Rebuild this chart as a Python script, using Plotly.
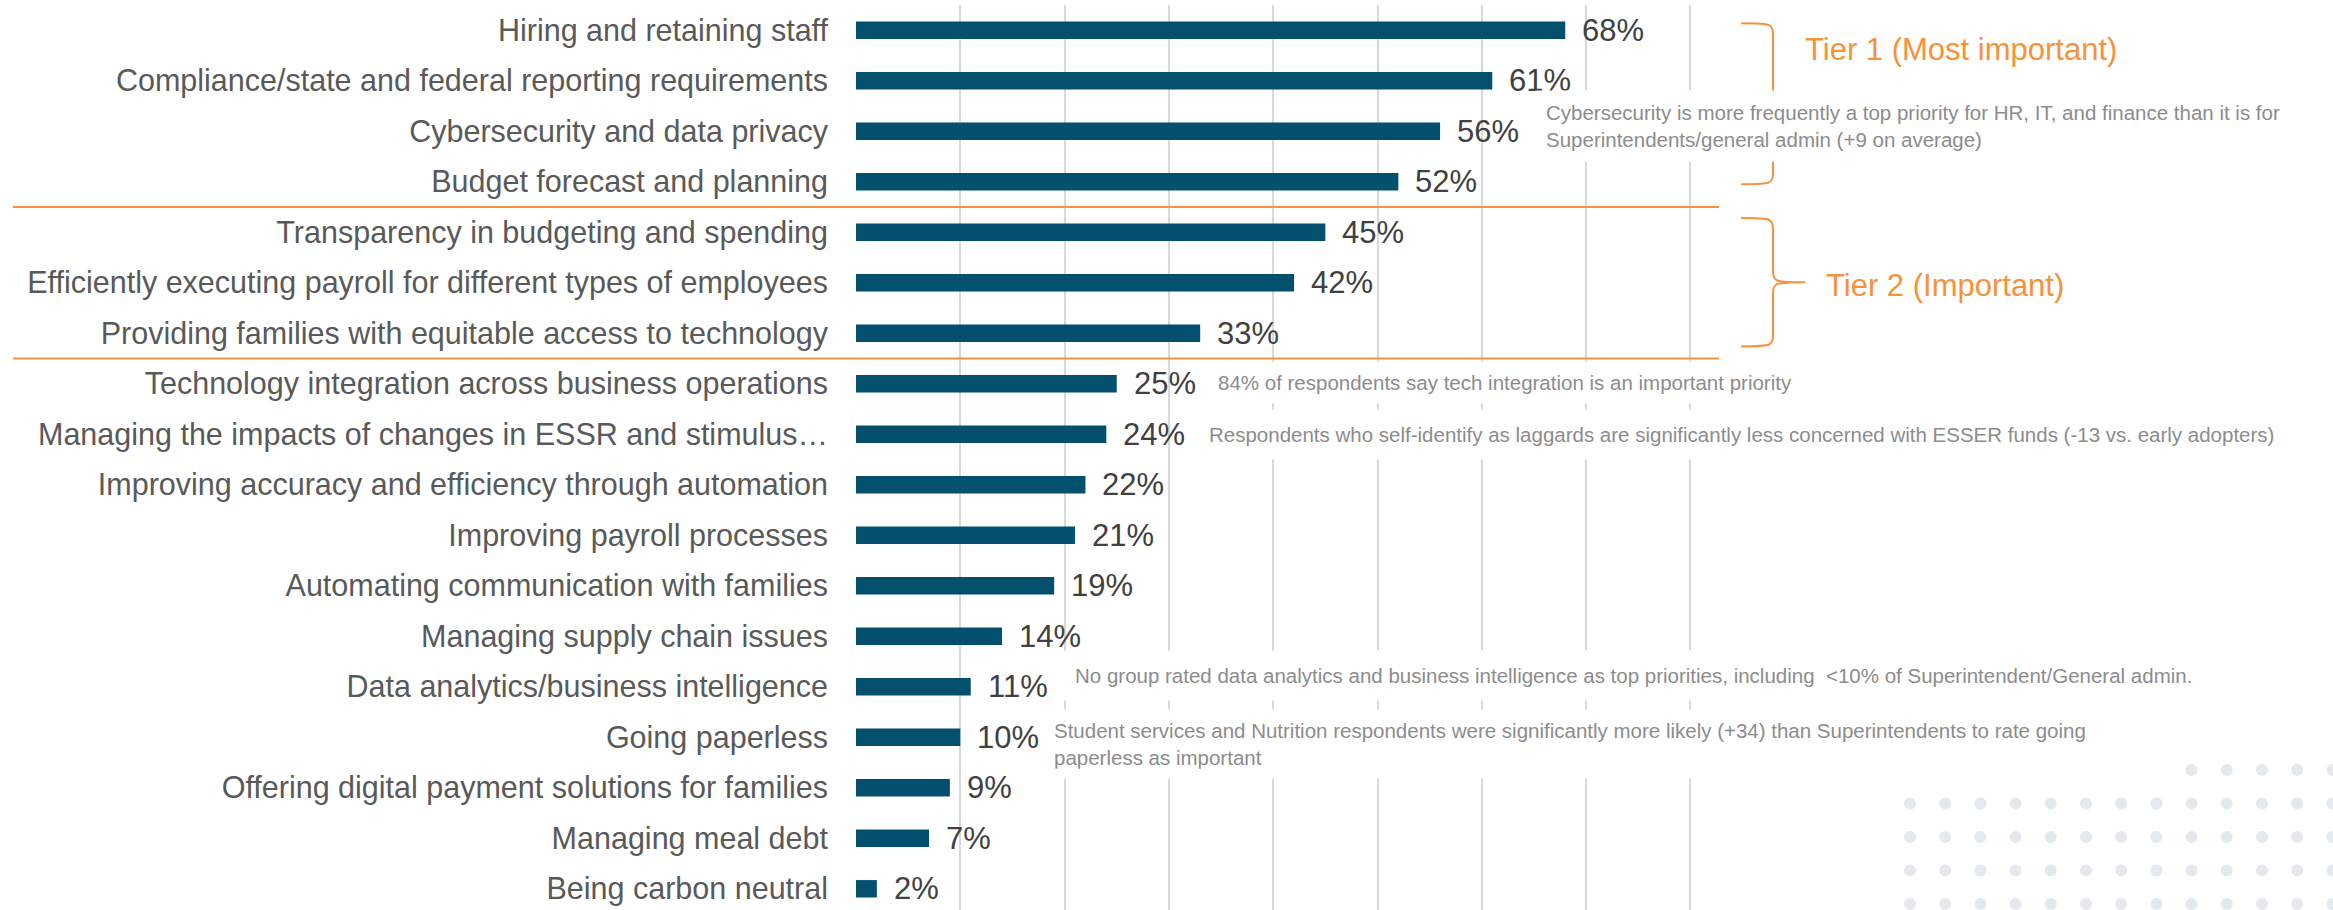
import plotly.graph_objects as go

# ---- data -------------------------------------------------------------
categories = [
    "Hiring and retaining staff",
    "Compliance/state and federal reporting requirements",
    "Cybersecurity and data privacy",
    "Budget forecast and planning",
    "Transparency in budgeting and spending",
    "Efficiently executing payroll for different types of employees",
    "Providing families with equitable access to technology",
    "Technology integration across business operations",
    "Managing the impacts of changes in ESSR and stimulus\u2026",
    "Improving accuracy and efficiency through automation",
    "Improving payroll processes",
    "Automating communication with families",
    "Managing supply chain issues",
    "Data analytics/business intelligence",
    "Going paperless",
    "Offering digital payment solutions for families",
    "Managing meal debt",
    "Being carbon neutral",
]
values = [68, 61, 56, 52, 45, 42, 33, 25, 24, 22, 21, 19, 14, 11, 10, 9, 7, 2]

tier_labels = ["Tier 1 (Most important)", "Tier 2 (Important)"]

notes = [
    "Cybersecurity is more frequently a top priority for HR, IT, and finance than it is for<br>"
    "Superintendents/general admin (+9 on average)",
    "84% of respondents say tech integration is an important priority",
    "Respondents who self-identify as laggards are significantly less concerned with ESSER funds (-13 vs. early adopters)",
    "No group rated data analytics and business intelligence as top priorities, including \u00a0&lt;10% of Superintendent/General admin.",
    "Student services and Nutrition respondents were significantly more likely (+34) than Superintendents to rate going<br>"
    "paperless as important",
]

# ---- styling ----------------------------------------------------------
W, H = 2333, 910
LEFT, TOP = 856, 5
PX_PER_PCT = 10.43
BAR = "#02506E"
ORANGE = "#F7923A"
GRID = "#D9D9D9"
FONT = "Liberation Sans, Arial, sans-serif"

rows = list(range(len(categories)))
x_max = (W - LEFT) / PX_PER_PCT
y_top, y_bottom = -0.5, 17.42

fig = go.Figure(
    go.Bar(
        x=values,
        y=rows,
        orientation="h",
        marker=dict(color=BAR, line=dict(width=0)),
        hoverinfo="skip",
    )
)

# value labels next to each bar
for r, v in zip(rows, values):
    fig.add_annotation(
        x=v, y=r, text=f"{v}%", showarrow=False,
        xanchor="left", yanchor="middle", xshift=15,
        font=dict(family=FONT, size=31, color="#404040"),
    )

# tier separators
for yb in (3.5, 6.5):
    fig.add_shape(
        type="line", xref="paper", yref="y",
        x0=(13 - LEFT) / (W - LEFT), x1=(1719 - LEFT) / (W - LEFT),
        y0=yb, y1=yb, line=dict(color=ORANGE, width=2), layer="above",
    )


def brace(yt, yb, ym, xa=84.85, xs=87.92, xt=90.99, d=0.3):
    return (
        f"M {xa},{yt} C {xs},{yt} {xs},{yt} {xs},{yt + d} "
        f"L {xs},{ym - d} C {xs},{ym} {xs},{ym} {xt},{ym} "
        f"C {xs},{ym} {xs},{ym} {xs},{ym + d} "
        f"L {xs},{yb - d} C {xs},{yb} {xs},{yb} {xa},{yb}"
    )


for yt, yb, ym in ((-0.14, 3.05, 1.45), (3.72, 6.26, 4.99)):
    fig.add_shape(
        type="path", xref="x", yref="y", path=brace(yt, yb, ym),
        line=dict(color=ORANGE, width=2), layer="above",
    )

for label, (tx, ty) in zip(tier_labels, ((90.8, 0.38), (92.8, 5.05))):
    fig.add_annotation(
        x=tx, y=ty, text=label, showarrow=False,
        xanchor="left", yanchor="middle",
        font=dict(family=FONT, size=31, color=ORANGE),
    )

# decorative dot pattern, bottom right
DOT = "#E3E9EC"
for j in range(5):
    cy = 770 + 33.5 * j
    for k in range(13):
        cx = 1910 + 35.2 * k
        fig.add_shape(
            type="circle", xref="paper", yref="paper",
            x0=(cx - 6 - LEFT) / (W - LEFT), x1=(cx + 6 - LEFT) / (W - LEFT),
            y0=(H - cy - 6) / (H - TOP), y1=(H - cy + 6) / (H - TOP),
            fillcolor=DOT, line=dict(width=0), layer="below",
        )

# call-out notes on white boxes
note_places = [
    dict(x=65.1, y=1.905, borderpad=10),
    dict(x=33.75, y=6.98, borderpad=9),
    dict(x=32.5, y=8.0, borderpad=13),
    dict(x=19.65, y=12.78, borderpad=13),
    dict(x=18.02, y=14.13, borderpad=9, width=1112),
]
for text, place in zip(notes, note_places):
    fig.add_annotation(
        text=text, showarrow=False, xanchor="left", yanchor="middle",
        align="left", bgcolor="white",
        font=dict(family=FONT, size=20.5, color="#8C8C8C"),
        **place,
    )

fig.update_layout(
    template="none",
    width=W, height=H,
    margin=dict(l=LEFT, r=0, t=TOP, b=0),
    paper_bgcolor="white", plot_bgcolor="white",
    bargap=0.655,
    showlegend=False,
    xaxis=dict(
        range=[0, x_max], tickvals=list(range(0, 81, 10)),
        showticklabels=False, showgrid=True, gridcolor=GRID, gridwidth=1.5,
        zeroline=False, showline=False, ticks="", automargin=False,
    ),
    yaxis=dict(
        range=[y_bottom, y_top], tickvals=rows, ticktext=categories,
        showgrid=False, zeroline=False, showline=False, ticks="",
        ticklabelstandoff=27, automargin=False,
        tickfont=dict(family=FONT, size=30.5, color="#595959"),
    ),
)

fig.write_html("out.html")
